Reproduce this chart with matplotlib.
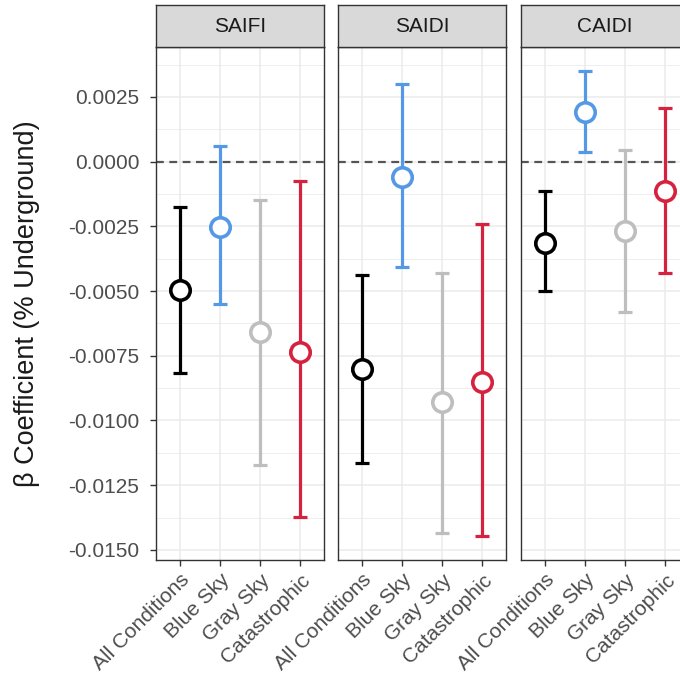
import numpy as np
import matplotlib.pyplot as plt

plt.rcParams['font.family'] = ['Liberation Sans', 'DejaVu Sans']

# data
panels = ['SAIFI', 'SAIDI', 'CAIDI']
conditions = ['All Conditions', 'Blue Sky', 'Gray Sky', 'Catastrophic']
colors = ['#000000', '#5599e6', '#bebebe', '#d6213f']

est = {
    'SAIFI': [-0.00494, -0.00251, -0.00660, -0.00737],
    'SAIDI': [-0.00802, -0.00060, -0.00927, -0.00850],
    'CAIDI': [-0.00315, 0.00190, -0.00266, -0.00114],
}
lower = {
    'SAIFI': [-0.00818, -0.00548, -0.01173, -0.01373],
    'SAIDI': [-0.01166, -0.00407, -0.01433, -0.01446],
    'CAIDI': [-0.00500, 0.00036, -0.00580, -0.00429],
}
upper = {
    'SAIFI': [-0.00177, 0.00062, -0.00150, -0.00073],
    'SAIDI': [-0.00439, 0.00300, -0.00430, -0.00242],
    'CAIDI': [-0.00114, 0.00350, 0.00046, 0.00207],
}

yticks = [0.0025, 0.0, -0.0025, -0.005, -0.0075, -0.01, -0.0125, -0.015]
ytick_labels = ['0.0025', '0.0000', '-0.0025', '-0.0050', '-0.0075', '-0.0100', '-0.0125', '-0.0150']

W, H = 680, 681
fig = plt.figure(figsize=(W / 100, H / 100), dpi=100)
fig.patch.set_facecolor('white')

panel_left = [156, 338, 521]
panel_w = 168
top, bottom = 47, 560
strip_top = 5

x = np.arange(len(conditions))
for i, name in enumerate(panels):
    l = panel_left[i] / W
    ax = fig.add_axes([l, 1 - bottom / H, panel_w / W, (bottom - top) / H])
    ax.set_facecolor('white')
    ax.set_xlim(-0.6, 3.6)
    ax.set_ylim(-0.01539, 0.00443)

    # grid
    for yv in np.arange(-0.01625, 0.005, 0.00125):
        ax.axhline(yv, color='#ebebeb', lw=0.6 if round(yv / 0.00125) % 2 else 1.1, zorder=0)
    for xv in x:
        ax.axvline(xv, color='#ebebeb', lw=1.1, zorder=0)

    ax.axhline(0, color='#555555', lw=1.6, ls=(0, (3.5, 2.5)), zorder=1)

    for j in range(len(conditions)):
        c = colors[j]
        e = est[name][j]
        ax.errorbar(x[j], e, yerr=[[e - lower[name][j]], [upper[name][j] - e]],
                    fmt='none', ecolor=c, elinewidth=2.3, capsize=5, capthick=2.3, zorder=2)
        ax.plot(x[j], e, 'o', ms=14, mfc='white', mec=c, mew=2.6, zorder=3)

    ax.set_xticks(x)
    ax.set_xticklabels(conditions, rotation=45, ha='right', rotation_mode='anchor',
                       fontsize=15, color='#4d4d4d')
    ax.set_yticks(yticks)
    ax.tick_params(color='#333333', length=4, width=1)
    ax.tick_params(axis='y', pad=8)
    if i == 0:
        ax.set_yticklabels(ytick_labels, fontsize=15, color='#4d4d4d')
        ax.set_ylabel('β Coefficient (% Underground)', fontsize=19.5, color='#1a1a1a', labelpad=20)
    else:
        ax.set_yticklabels([])
        ax.tick_params(axis='y', left=False)
    for s in ax.spines.values():
        s.set_color('#333333')
        s.set_linewidth(1)

    # facet strip
    sax = fig.add_axes([l, 1 - top / H, panel_w / W, (top - strip_top) / H])
    sax.set_facecolor('#d9d9d9')
    sax.set_xticks([])
    sax.set_yticks([])
    for s in sax.spines.values():
        s.set_color('#333333')
        s.set_linewidth(1)
    sax.text(0.5, 0.5, name, ha='center', va='center', fontsize=15, color='#1a1a1a',
             transform=sax.transAxes)

fig.savefig('out.png', dpi=100)
